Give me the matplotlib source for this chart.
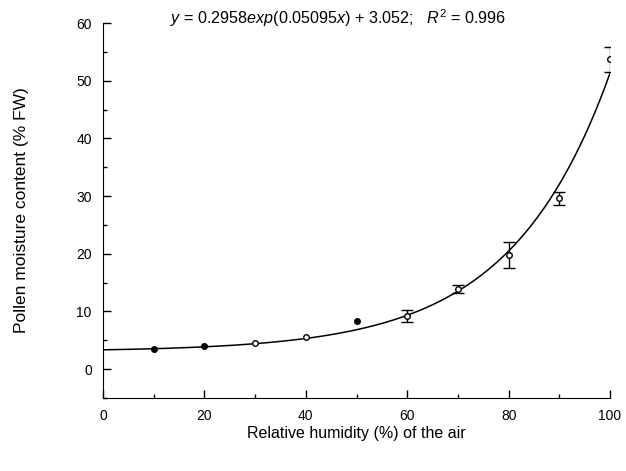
import numpy as np
import matplotlib.pyplot as plt
from matplotlib.ticker import MultipleLocator

plt.rcParams['font.family'] = ['Liberation Sans', 'DejaVu Sans']
plt.rcParams['mathtext.fontset'] = 'custom'
plt.rcParams['mathtext.rm'] = 'Liberation Sans'
plt.rcParams['mathtext.it'] = 'Liberation Sans:italic'

# measured points
humidity = [10, 20, 30, 40, 50, 60, 70, 80, 90, 100]
moisture = [3.5, 4.0, 4.5, 5.5, 8.3, 9.2, 13.9, 19.8, 29.6, 53.7]
err = [0, 0, 0, 0, 0, 1.0, 0.7, 2.2, 1.2, 2.2]
filled = [True, True, False, False, True, False, False, False, False, False]

# fitted model from the chart: y = a*exp(b*x) + c
fit_a, fit_b, fit_c = 0.2958, 0.05095, 3.052

fig = plt.figure(figsize=(6.26, 4.71), dpi=100)
ax = fig.add_axes([0.1645, 0.155, 0.81, 0.796])

xs = np.linspace(0, 100, 300)
ax.plot(xs, fit_a * np.exp(fit_b * xs) + fit_c, color='black', lw=1.1)

for x, y, e, f in zip(humidity, moisture, err, filled):
    if e > 0:
        ax.errorbar(x, y, yerr=e, fmt='none', ecolor='black', elinewidth=1.0,
                    capsize=4, capthick=1.0)
    ax.plot(x, y, 'o', ms=4, mec='black', mew=1.0,
            mfc='black' if f else 'white', zorder=3)

ax.set_xlim(0, 100)
ax.set_ylim(-5, 60)
ax.xaxis.set_major_locator(MultipleLocator(20))
ax.xaxis.set_minor_locator(MultipleLocator(10))
ax.yaxis.set_major_locator(MultipleLocator(10))
ax.yaxis.set_minor_locator(MultipleLocator(5))
ax.tick_params(which='both', direction='in', labelsize=10, width=1.0)
ax.tick_params(which='major', length=6)
ax.tick_params(which='minor', length=3)
ax.tick_params(axis='x', pad=8)
ax.tick_params(axis='y', pad=8)
for s in ['top', 'right']:
    ax.spines[s].set_visible(False)

ax.set_xlabel('Relative humidity (%) of the air', fontsize=11.5, labelpad=2)
ax.set_ylabel('Pollen moisture content (% FW)', fontsize=12.5, labelpad=34)

fig.text(0.54, 0.962,
         r'$y$ = 0.2958$exp$(0.05095$x$) + 3.052;   $R^2$ = 0.996',
         ha='center', va='center', fontsize=11.6)

fig.savefig('out.png', dpi=100)
